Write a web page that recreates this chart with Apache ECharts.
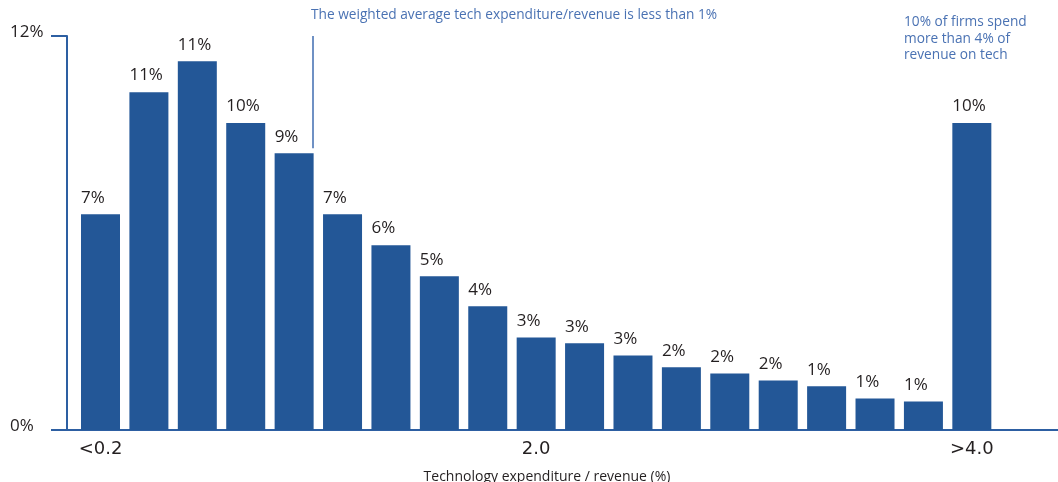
<!DOCTYPE html>
<html>
<head>
<meta charset="utf-8">
<script src="https://cdn.jsdelivr.net/npm/echarts@6/dist/echarts.min.js"></script>
<style>
html,body{margin:0;padding:0;background:#fff;}
#chart{width:1058px;height:482px;}
</style>
</head>
<body>
<div id="chart"></div>
<script>
// Data
var categories = ['<0.2','0.4','0.6','0.8','1.0','1.2','1.4','1.6','1.8','2.0','2.2','2.4','2.6','2.8','3.0','3.2','3.4','3.6','>4.0'];
var values = [6.57, 10.29, 11.23, 9.35, 8.43, 6.57, 5.63, 4.68, 3.77, 2.82, 2.64, 2.27, 1.91, 1.72, 1.51, 1.33, 0.96, 0.87, 9.35];
var valueLabels = ['7%','11%','11%','10%','9%','7%','6%','5%','4%','3%','3%','3%','2%','2%','2%','1%','1%','1%','10%'];
var xTickIndex = [0, 9, 18];
var xTickLabels = ['<0.2', '2.0', '>4.0'];
var yTicks = [0, 12];
var annotation1 = 'The weighted average tech expenditure/revenue is less than 1%';
var annotation1Pos = [4.38, 8.58];
var annotation2 = '10% of firms spend\nmore than 4% of\nrevenue on tech';

var FONT = '"Open Sans", Lato, sans-serif';
var WIDE = '"DejaVu Sans", "Open Sans", sans-serif';
var BAR = '#235797';
var AXIS = '#2d5fa2';
var NOTE = '#4a72b3';

var chart = echarts.init(document.getElementById('chart'), null, {renderer: 'canvas'});
chart.setOption({
  animation: false,
  textStyle: {fontFamily: FONT},
  grid: {left: 67, right: 0, top: 36, bottom: 52, containLabel: false, outerBoundsMode: 'none'},
  title: [{
    text: annotation1,
    left: 311, top: 8, padding: 0,
    textStyle: {fontFamily: FONT, fontSize: 13.7, fontWeight: 'normal', color: NOTE}
  }, {
    text: annotation2,
    left: 904, top: 14, padding: 0,
    textStyle: {fontFamily: FONT, fontSize: 13.7, fontWeight: 'normal', color: NOTE, lineHeight: 16.6}
  }],
  xAxis: {
    type: 'value',
    min: -0.692,
    max: 19.78,
    splitLine: {show: false},
    axisTick: {show: false},
    axisLine: {show: true, onZero: false, lineStyle: {color: AXIS, width: 2}},
    axisLabel: {
      customValues: xTickIndex,
      formatter: function (v) { var k = xTickIndex.indexOf(Math.round(v)); return k >= 0 ? xTickLabels[k] : ''; },
      fontFamily: WIDE, fontSize: 18, color: '#231f20', margin: 10
    },
    name: 'Technology expenditure / revenue (%)',
    nameLocation: 'middle',
    nameGap: 40,
    nameTextStyle: {fontFamily: FONT, fontSize: 14, color: '#231f20', padding: [0, 31, 0, 0]}
  },
  yAxis: {
    type: 'value',
    min: 0, max: 12, interval: 12,
    splitLine: {show: false},
    axisLine: {show: true, onZero: false, lineStyle: {color: AXIS, width: 2}},
    axisTick: {show: true, length: 16, lineStyle: {color: AXIS, width: 2}},
    axisLabel: {
      formatter: function (v) { return yTicks.indexOf(v) >= 0 ? v + '%' : ''; },
      align: 'left', margin: 57, verticalAlign: 'bottom', lineHeight: 7,
      fontFamily: FONT, fontSize: 17, color: '#231f20'
    }
  },
  series: [{
    type: 'bar',
    barWidth: 39,
    data: values.map(function (v, i) { return [i, v]; }),
    itemStyle: {color: BAR},
    label: {
      show: true,
      position: [0, -8],
      align: 'left',
      verticalAlign: 'bottom',
      fontFamily: FONT, fontSize: 17, color: '#231f20',
      formatter: function (p) { return valueLabels[p.dataIndex]; }
    },
    markLine: {
      silent: true,
      symbol: 'none',
      label: {show: false},
      lineStyle: {color: '#6f91c4', width: 2, type: 'solid'},
      data: [[{coord: annotation1Pos}, {coord: [annotation1Pos[0], 12]}]]
    }
  }]
});
</script>
</body>
</html>
